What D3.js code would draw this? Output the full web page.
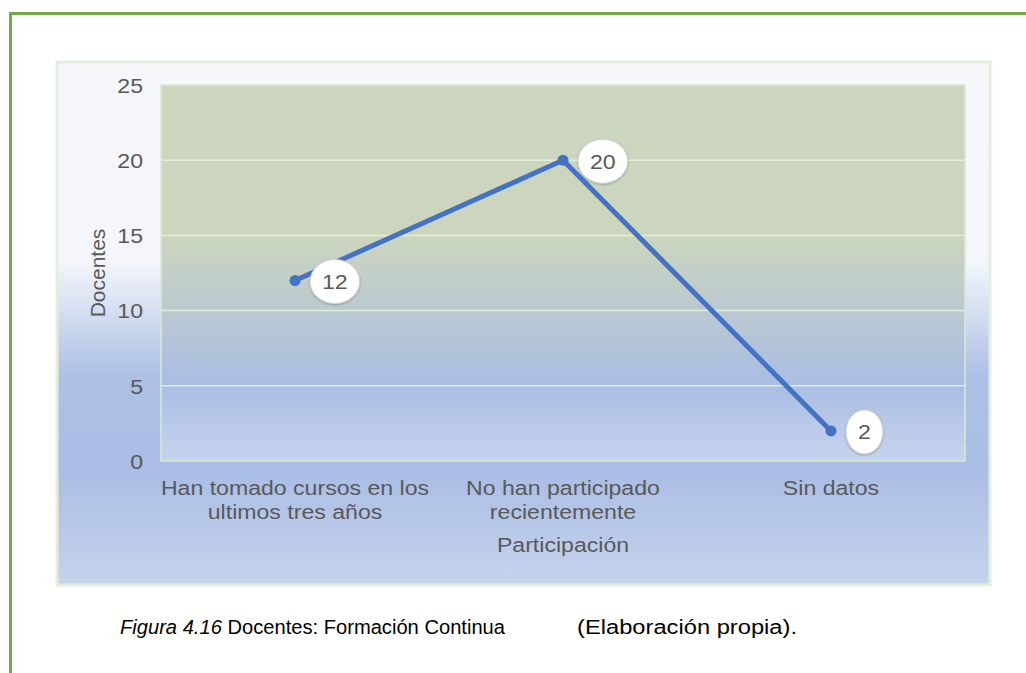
<!DOCTYPE html>
<html>
<head>
<meta charset="utf-8">
<title>Docentes: Formación Continua</title>
<script src="https://cdn.jsdelivr.net/npm/d3@7/dist/d3.min.js"></script>
<style>
  html, body { margin: 0; padding: 0; background: #ffffff; }
  svg { display: block; font-family: "Liberation Sans", Arial, sans-serif; }
  .tick text { fill: #595959; font-size: 21px; }
  .lbl { fill: #595959; font-size: 21px; }
</style>
</head>
<body>
<div id="chart"></div>
<script>
(function(d3) {
  'use strict';

  // data
  var categories = [
    ['Han tomado cursos en los', 'ultimos tres años'],
    ['No han participado', 'recientemente'],
    ['Sin datos']
  ];
  var values = [12, 20, 2];
  var yTicks = [0, 5, 10, 15, 20, 25];

  var W = 1026, H = 673;
  var box = { x: 57, y: 62, w: 933, h: 523 };
  var plot = { left: 161, top: 85, right: 965, bottom: 461 };
  var stretch = 'scale(1.1,1)'; // the source picture is a bit wider than tall

  var svg = d3.select('#chart').append('svg')
    .attr('width', W)
    .attr('height', H);

  var defs = svg.append('defs');

  var bg = defs.append('linearGradient').attr('id', 'bg')
    .attr('x1', 0).attr('y1', 0).attr('x2', 0).attr('y2', 1);
  [[0, '#f6f7fb'], [0.38, '#f4f6fb'], [0.6, '#adc0e5'], [0.78, '#aabde4'], [1, '#c5d3ec']]
    .forEach(function(s) { bg.append('stop').attr('offset', s[0]).attr('stop-color', s[1]); });

  var pg = defs.append('linearGradient').attr('id', 'pg')
    .attr('x1', 0).attr('y1', 0).attr('x2', 0).attr('y2', 1);
  [[0, '#ccd5bd'], [0.4, '#ccd5bd'], [0.8, '#aabde4'], [1, '#c6d4ec']]
    .forEach(function(s) { pg.append('stop').attr('offset', s[0]).attr('stop-color', s[1]); });

  var sh = defs.append('filter').attr('id', 'sh')
    .attr('x', '-30%').attr('y', '-30%').attr('width', '160%').attr('height', '160%');
  sh.append('feDropShadow').attr('dx', 0).attr('dy', 1).attr('stdDeviation', 1.2)
    .attr('flood-color', '#000').attr('flood-opacity', 0.25);

  // green frame of the page
  svg.append('path')
    .attr('d', 'M10.5,' + H + 'V13.5H' + W)
    .attr('fill', 'none')
    .attr('stroke', '#70ad47')
    .attr('stroke-width', 3);

  // chart box
  svg.append('rect')
    .attr('x', box.x).attr('y', box.y)
    .attr('width', box.w).attr('height', box.h)
    .attr('fill', 'url(#bg)')
    .attr('stroke', '#e2efda')
    .attr('stroke-width', 3);

  var x = d3.scaleBand()
    .domain(d3.range(categories.length))
    .range([plot.left, plot.right]);

  var y = d3.scaleLinear()
    .domain([0, 25])
    .range([plot.bottom, plot.top]);

  svg.append('rect')
    .attr('x', plot.left).attr('y', plot.top)
    .attr('width', plot.right - plot.left)
    .attr('height', plot.bottom - plot.top)
    .attr('fill', 'url(#pg)')
    .attr('stroke', '#dde8d5')
    .attr('stroke-width', 1.5);

  // gridlines
  svg.append('g')
    .selectAll('line')
    .data(yTicks.slice(1, -1))
    .enter().append('line')
    .attr('x1', plot.left).attr('x2', plot.right)
    .attr('y1', function(d) { return y(d); })
    .attr('y2', function(d) { return y(d); })
    .attr('stroke', '#e2efda')
    .attr('stroke-width', 1.5);

  svg.append('line')
    .attr('x1', plot.left).attr('x2', plot.right)
    .attr('y1', plot.bottom).attr('y2', plot.bottom)
    .attr('stroke', '#d6dcd8').attr('stroke-width', 1.5);

  // y axis
  var yAxis = svg.append('g')
    .attr('transform', 'translate(' + (plot.left - 18) + ',0)')
    .call(d3.axisLeft(y).tickValues(yTicks).tickSize(0).tickPadding(0));
  yAxis.select('.domain').remove();
  yAxis.selectAll('.tick text').attr('dy', '0.35em').attr('transform', stretch);

  // x axis
  var xAxis = svg.append('g')
    .attr('transform', 'translate(0,' + plot.bottom + ')')
    .call(d3.axisBottom(x).tickSize(0).tickFormat(''));
  xAxis.select('.domain').remove();
  xAxis.selectAll('.tick').each(function(d) {
    var t = d3.select(this).append('text')
      .attr('text-anchor', 'middle')
      .attr('transform', stretch)
      .attr('y', 34);
    categories[d].forEach(function(line, i) {
      t.append('tspan').attr('x', 0).attr('dy', i ? 24 : 0).text(line);
    });
  });

  svg.append('text')
    .attr('class', 'lbl')
    .attr('text-anchor', 'middle')
    .attr('transform', 'translate(' + ((plot.left + plot.right) / 2) + ',552) ' + stretch)
    .text('Participación');

  svg.append('text')
    .attr('class', 'lbl')
    .attr('text-anchor', 'middle')
    .attr('transform', 'translate(105,' + ((plot.top + plot.bottom) / 2) + ') rotate(-90)')
    .text('Docentes');

  // line and markers
  var cx = function(d, i) { return x(i) + x.bandwidth() / 2; };

  var line = d3.line()
    .x(cx)
    .y(function(d) { return y(d); });

  svg.append('path')
    .datum(values)
    .attr('d', line)
    .attr('fill', 'none')
    .attr('stroke', '#4472c4')
    .attr('stroke-width', 5)
    .attr('stroke-linejoin', 'round');

  svg.append('g').selectAll('circle')
    .data(values)
    .enter().append('circle')
    .attr('cx', cx)
    .attr('cy', function(d) { return y(d); })
    .attr('r', 5.5)
    .attr('fill', '#4472c4');

  // data labels
  var labels = svg.append('g').selectAll('g')
    .data(values)
    .enter().append('g')
    .attr('transform', function(d, i) {
      return 'translate(' + (cx(d, i) + 15) + ',' + (y(d) + 1) + ')';
    });

  labels.each(function(d) {
    var g = d3.select(this);
    var t = g.append('text')
      .attr('class', 'lbl')
      .attr('dy', '0.35em')
      .attr('text-anchor', 'middle')
      .text(d);
    var w = t.node().getComputedTextLength() * 1.1;
    var rx = (w + 24) / 2;
    g.insert('ellipse', 'text')
      .attr('cx', rx).attr('cy', 0)
      .attr('rx', rx).attr('ry', 22)
      .attr('fill', '#ffffff')
      .attr('stroke', '#d0d0d0')
      .attr('stroke-width', 1)
      .attr('filter', 'url(#sh)');
    t.attr('transform', 'translate(' + rx + ',0) ' + stretch);
  });

  // caption
  var capFont = '"Liberation Sans Narrow", "Arial Narrow", "Liberation Sans", sans-serif';
  var cap = svg.append('text')
    .attr('x', 120).attr('y', 634)
    .attr('fill', '#000')
    .attr('textLength', 385)
    .attr('lengthAdjust', 'spacingAndGlyphs')
    .style('font-family', capFont)
    .style('font-size', '20px');
  cap.append('tspan').style('font-style', 'italic').text('Figura 4.16');
  cap.append('tspan').text(' Docentes: Formación Continua');

  svg.append('text')
    .attr('x', 577).attr('y', 634)
    .attr('fill', '#000')
    .attr('textLength', 220)
    .attr('lengthAdjust', 'spacingAndGlyphs')
    .style('font-family', capFont)
    .style('font-size', '20px')
    .text('(Elaboración propia).');

})(window.d3);
</script>
</body>
</html>
